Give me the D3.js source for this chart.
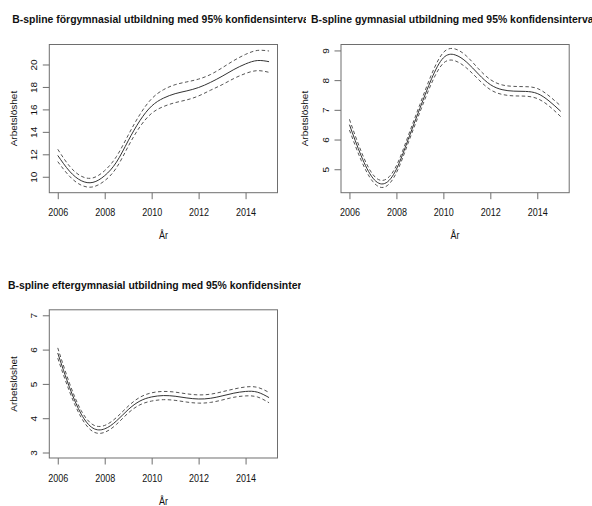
<!DOCTYPE html>
<meta charset="UTF-8">
<style>
body { margin: 0; background: #fff; }
svg text { font-family: "Liberation Sans", Arial, sans-serif; fill: #111; }
.box { fill: none; stroke: #6e6e6e; stroke-width: 1px; }
.fit { fill: none; stroke: #333; stroke-width: 1px; }
.ci { fill: none; stroke: #555; stroke-width: 1px; stroke-dasharray: 3.5,2.5; }
.axis line { stroke: #6e6e6e; }
</style>
<body>
<script src="https://d3js.org/d3.v7.min.js"></script>
<script>

// years the spline values were read at
var years = [2006, 2006.5, 2007, 2007.5, 2008, 2008.5, 2009, 2009.5, 2010, 2010.5,
             2011, 2011.5, 2012, 2012.5, 2013, 2013.5, 2014, 2014.5, 2015];
var xTicks = [2006, 2008, 2010, 2012, 2014];

// förgymnasial
var forFit   = [11.9, 10.5, 9.65, 9.5, 10.1, 11.3, 13.2, 15.0, 16.3, 17.0, 17.4, 17.65, 17.95, 18.4, 18.95, 19.55, 20.05, 20.35, 20.25];
var forUpper = [12.45, 10.95, 10.05, 9.9, 10.55, 11.8, 13.7, 15.55, 16.95, 17.75, 18.2, 18.45, 18.7, 19.1, 19.7, 20.35, 20.9, 21.25, 21.2];
var forLower = [11.35, 10.05, 9.25, 9.1, 9.65, 10.8, 12.7, 14.45, 15.65, 16.25, 16.6, 16.85, 17.2, 17.7, 18.2, 18.75, 19.2, 19.45, 19.3];
var forTicks = [10, 12, 14, 16, 18, 20];

// gymnasial
var gymFit   = [6.5, 5.45, 4.7, 4.52, 5.0, 6.0, 7.05, 8.05, 8.75, 8.85, 8.6, 8.2, 7.85, 7.68, 7.63, 7.62, 7.55, 7.3, 6.95];
var gymUpper = [6.68, 5.6, 4.82, 4.64, 5.12, 6.12, 7.18, 8.2, 8.93, 9.05, 8.8, 8.38, 8.02, 7.84, 7.79, 7.78, 7.72, 7.47, 7.13];
var gymLower = [6.32, 5.3, 4.58, 4.4, 4.88, 5.88, 6.92, 7.9, 8.57, 8.65, 8.4, 8.02, 7.68, 7.52, 7.47, 7.46, 7.38, 7.13, 6.77];
var gymTicks = [5, 6, 7, 8, 9];

// eftergymnasial
var eftFit   = [5.9, 4.9, 4.12, 3.71, 3.69, 3.92, 4.25, 4.5, 4.62, 4.66, 4.64, 4.59, 4.56, 4.58, 4.65, 4.73, 4.78, 4.76, 4.6];
var eftUpper = [6.05, 5.02, 4.22, 3.81, 3.79, 4.02, 4.35, 4.61, 4.74, 4.78, 4.76, 4.71, 4.68, 4.7, 4.77, 4.85, 4.91, 4.9, 4.75];
var eftLower = [5.75, 4.78, 4.02, 3.61, 3.59, 3.82, 4.15, 4.39, 4.5, 4.54, 4.52, 4.47, 4.44, 4.46, 4.53, 4.61, 4.65, 4.62, 4.45];
var eftTicks = [3, 4, 5, 6, 7];

var titles = ["B-spline förgymnasial utbildning med 95% konfidensintervall",
              "B-spline gymnasial utbildning med 95% konfidensintervall",
              "B-spline eftergymnasial utbildning med 95% konfidensintervall"];

var W = 592, H = 506;
var box = {left: 49.3, top: 44.5, width: 228.2, height: 148.2};
var sx = 0.9; // text in the picture is a bit narrow

var svg = d3.select("body").append("svg")
    .attr("width", W)
    .attr("height", H);

var panels = [
  {x: 0, y: 0, clip: 306, titleY: 22.5, title: titles[0],
   fit: forFit, upper: forUpper, lower: forLower, ticks: forTicks, ydom: [8.58, 21.78]},
  {x: 291.7, y: 0, clip: 301, titleY: 23, title: titles[1],
   fit: gymFit, upper: gymUpper, lower: gymLower, ticks: gymTicks, ydom: [4.21, 9.2]},
  {x: 0, y: 265.3, clip: 301, titleY: 24.2, title: titles[2],
   fit: eftFit, upper: eftUpper, lower: eftLower, ticks: eftTicks, ydom: [2.84, 7.16]}
];

panels.forEach(drawPanel);

function drawPanel(p, i) {
  var g = svg.append("g")
      .attr("transform", "translate(" + p.x + "," + p.y + ")");

  var x = d3.scaleLinear()
      .domain([2005.64, 2015.36])
      .range([box.left, box.left + box.width]);
  var y = d3.scaleLinear()
      .domain(p.ydom)
      .range([box.top + box.height, box.top]);

  // title, cut off at the edge of the figure like R does
  g.append("clipPath").attr("id", "clip" + i)
    .append("rect")
      .attr("x", 0).attr("y", 0)
      .attr("width", p.clip).attr("height", 40);
  g.append("g")
      .attr("clip-path", "url(#clip" + i + ")")
    .append("text")
      .attr("transform", "translate(" + (box.left + box.width / 2) + "," + p.titleY + ") scale(" + sx + ",1)")
      .attr("text-anchor", "middle")
      .style("font-size", "11.6px")
      .style("font-weight", "bold")
      .text(p.title);

  // curves
  var line = function(vals) {
    return d3.line()
      .x(function(d, j) { return x(years[j]); })
      .y(function(d) { return y(d); })
      .curve(d3.curveNatural)(vals);
  };
  g.append("path").attr("class", "ci").attr("d", line(p.upper));
  g.append("path").attr("class", "ci").attr("d", line(p.lower));
  g.append("path").attr("class", "fit").attr("d", line(p.fit));

  // axes
  var xa = g.append("g")
      .attr("class", "axis")
      .attr("transform", "translate(0," + (box.top + box.height) + ")")
      .call(d3.axisBottom(x).tickValues(xTicks).tickSize(6.5).tickFormat(d3.format("d")));
  xa.select(".domain").remove();
  xa.selectAll("text")
      .attr("y", null).attr("dy", null)
      .attr("transform", "translate(0,23.5) scale(" + sx + ",1)")
      .style("font-size", "10px");

  var ya = g.append("g")
      .attr("class", "axis")
      .attr("transform", "translate(" + box.left + ",0)")
      .call(d3.axisLeft(y).tickValues(p.ticks).tickSize(6.5).tickFormat(d3.format("d")));
  ya.select(".domain").remove();
  ya.selectAll("text")
      .attr("x", null).attr("dy", null)
      .attr("text-anchor", "middle")
      .attr("transform", "translate(-12.4,0) scale(" + sx + ",1) rotate(-90)")
      .style("font-size", "10px");

  // box
  g.append("rect").attr("class", "box")
      .attr("x", box.left).attr("y", box.top)
      .attr("width", box.width).attr("height", box.height);

  // axis titles
  g.append("text")
      .attr("transform", "translate(" + (box.left + box.width / 2) + ",239.3) scale(" + sx + ",1)")
      .attr("text-anchor", "middle")
      .style("font-size", "10px")
      .text("År");
  g.append("text")
      .attr("transform", "translate(16.7," + (box.top + box.height / 2) + ") scale(" + sx + ",1) rotate(-90)")
      .attr("text-anchor", "middle")
      .style("font-size", "10px")
      .text("Arbetslöshet");
}

</script>
</body>
